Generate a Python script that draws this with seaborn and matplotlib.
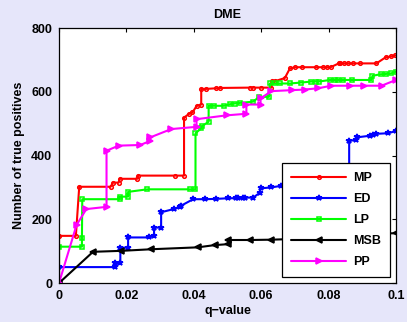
import matplotlib
matplotlib.use("Agg")
import matplotlib.pyplot as plt
import seaborn as sns

# q-value / number of true positives
mp_q = [0, 0, 0.005, 0.006, 0.0153, 0.016, 0.0177, 0.018, 0.0232, 0.0235, 0.0343, 0.0371,
        0.0371, 0.0385, 0.0396, 0.0408, 0.0422, 0.0422, 0.0437, 0.0467, 0.0479, 0.0566,
        0.0575, 0.0598, 0.063, 0.0632, 0.064, 0.067, 0.0685, 0.070, 0.0722, 0.0762, 0.0784,
        0.0794, 0.0806, 0.083, 0.0835, 0.0845, 0.0858, 0.0871, 0.0892, 0.0942, 0.0969,
        0.0986, 0.0998]
mp_tp = [0, 148, 148, 302, 302, 315, 315, 327, 327, 337, 337, 337, 519, 530, 535, 555, 560,
         609, 609, 611, 612, 613, 613, 613, 613, 633, 633, 643, 673, 677, 677, 677, 677, 677,
         677, 689, 689, 689, 689, 689, 689, 689, 708, 711, 714]

ed_q = [0, 0, 0.0167, 0.0167, 0.0182, 0.0182, 0.0205, 0.0205, 0.0266, 0.0282, 0.0282,
        0.0303, 0.0303, 0.034, 0.0358, 0.0363, 0.0398, 0.0432, 0.0467, 0.0502, 0.0526,
        0.0531, 0.0546, 0.0551, 0.0576, 0.0596, 0.0598, 0.063, 0.066, 0.072, 0.080, 0.0861,
        0.0861, 0.0882, 0.0884, 0.0922, 0.0932, 0.0942, 0.0977, 0.1]
ed_tp = [0, 50, 50, 62, 62, 111, 111, 143, 143, 148, 174, 174, 222, 232, 237, 243, 263, 263,
         264, 266, 266, 267, 267, 268, 268, 283, 297, 300, 305, 315, 330, 340, 446, 449, 457,
         462, 464, 468, 470, 477]

lp_q = [0, 0, 0.0068, 0.0068, 0.0069, 0.018, 0.018, 0.0205, 0.0205, 0.0262, 0.0388, 0.0405,
        0.0405, 0.0422, 0.0424, 0.0444, 0.0444, 0.0459, 0.049, 0.0507, 0.0521, 0.0536,
        0.0576, 0.0594, 0.0623, 0.0626, 0.064, 0.0655, 0.0685, 0.0719, 0.0749, 0.0764,
        0.0771, 0.0804, 0.0818, 0.0828, 0.0843, 0.0869, 0.0927, 0.093, 0.0954, 0.0971,
        0.0986, 0.1]
lp_tp = [0, 114, 114, 140, 263, 263, 271, 271, 286, 294, 294, 294, 470, 485, 492, 506, 556,
         556, 556, 561, 563, 565, 569, 584, 584, 626, 626, 626, 626, 629, 632, 632, 632, 637,
         637, 637, 637, 637, 637, 650, 655, 656, 658, 663]

msb_q = [0, 0.0101, 0.0185, 0.0274, 0.0412, 0.0462, 0.0502, 0.0502, 0.0566, 0.063, 0.075,
         0.09, 0.1]
msb_tp = [0, 98, 101, 106, 112, 119, 122, 135, 135, 136, 140, 156, 156]

pp_q = [0, 0.0052, 0.0081, 0.0141, 0.0141, 0.0177, 0.0241, 0.0271, 0.0271, 0.0333, 0.0408,
        0.0408, 0.0497, 0.0556, 0.0556, 0.0598, 0.0598, 0.063, 0.069, 0.0729, 0.0769,
        0.0808, 0.0863, 0.0904, 0.0957, 0.1]
pp_tp = [0, 182, 232, 239, 415, 431, 433, 446, 457, 483, 490, 514, 526, 531, 560, 560, 579,
         602, 605, 607, 611, 619, 619, 619, 619, 637]

x_ticks = [0, 0.02, 0.04, 0.06, 0.08, 0.1]
x_tick_labels = ["0", "0.02", "0.04", "0.06", "0.08", "0.1"]
y_ticks = [0, 200, 400, 600, 800]

sns.set_style("white")
plt.rcParams["font.family"] = ["Liberation Sans", "DejaVu Sans"]
plt.rcParams["font.weight"] = "bold"
plt.rcParams["axes.labelweight"] = "bold"
plt.rcParams["axes.titleweight"] = "bold"
plt.rcParams["text.color"] = "black"
plt.rcParams["axes.labelcolor"] = "black"

fs = 9

fig = plt.figure(figsize=(4.07, 3.22), dpi=100, facecolor="#e6e6fa")
ax = fig.add_axes([0.145, 0.121, 0.828, 0.792])
ax.set_facecolor("white")

series = [
    ("MP", mp_q, mp_tp, "#ff0000", "o", 2.6, "none"),
    ("ED", ed_q, ed_tp, "#0000ff", "*", 3.8, "#0000ff"),
    ("LP", lp_q, lp_tp, "#00ff00", "s", 3.0, "none"),
    ("MSB", msb_q, msb_tp, "#000000", "<", 3.8, "#000000"),
    ("PP", pp_q, pp_tp, "#ff00ff", ">", 3.8, "#ff00ff"),
]

for name, q, tp, color, marker, ms, mfc in series:
    sns.lineplot(x=q, y=tp, ax=ax, sort=False, estimator=None, color=color, lw=1.5,
                 marker=marker, markersize=ms, mfc=mfc, mec=color, mew=1.1, label=name)

ax.set_xlim(0, 0.1)
ax.set_ylim(0, 800)
ax.set_xticks(x_ticks)
ax.set_xticklabels(x_tick_labels)
ax.set_yticks(y_ticks)
ax.tick_params(direction="in", length=3, width=0.8, top=True, right=True,
               labelsize=fs, pad=5, colors="black")
for sp in ax.spines.values():
    sp.set_visible(True)
    sp.set_color("black")
    sp.set_linewidth(0.9)

ax.set_title("DME", fontsize=fs, pad=7, color="black")
ax.set_xlabel("q\u2212value", fontsize=fs, labelpad=2)
ax.set_ylabel("Number of true positives", fontsize=fs, labelpad=4)

leg = ax.legend(loc="lower right", fontsize=fs, frameon=True, fancybox=False,
                framealpha=1, edgecolor="black", handlelength=4.4, handletextpad=0.55,
                labelspacing=0.72, borderaxespad=0.5, borderpad=0.7, numpoints=1)
leg.get_frame().set_linewidth(0.9)
for t in leg.get_texts():
    t.set_color("black")

fig.savefig("out.png", dpi=100, facecolor=fig.get_facecolor())
